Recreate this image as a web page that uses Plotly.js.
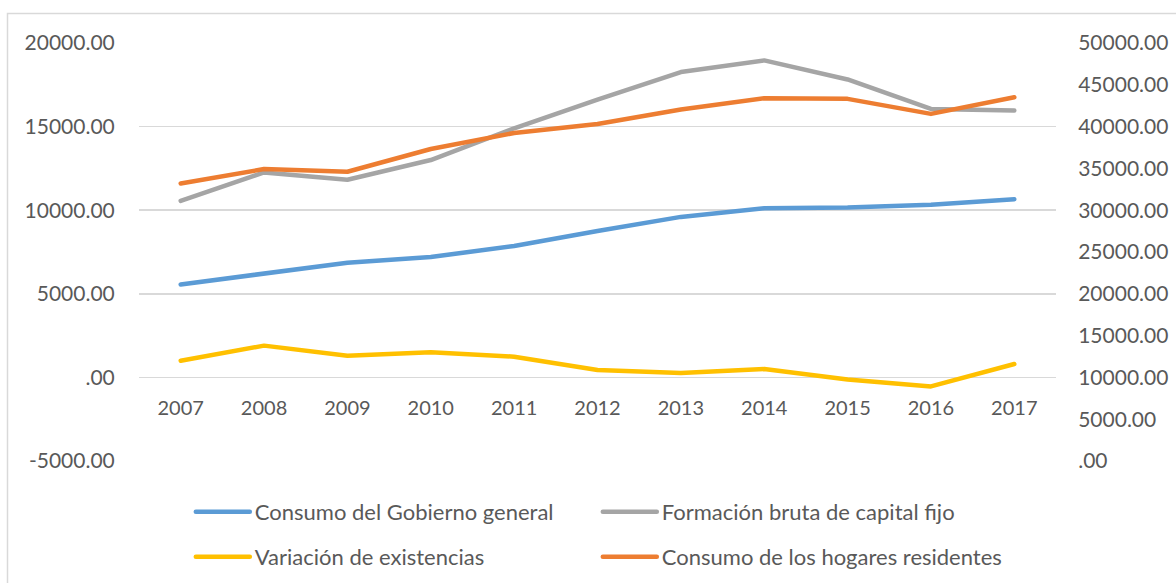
<!DOCTYPE html>
<html>
<head>
<meta charset="utf-8">
<script src="https://cdn.plot.ly/plotly-3.0.1.min.js"></script>
<style>
  html, body { margin: 0; padding: 0; background: #fff; overflow: hidden; }
  #chart { width: 1176px; height: 583px; }
  #chart path.js-line { stroke-linecap: round; stroke-linejoin: round; }
</style>
</head>
<body>
<div id="chart"></div>
<script>
// ---- data ----
var years = ['2007','2008','2009','2010','2011','2012','2013','2014','2015','2016','2017'];
var consumoGobierno = [5560, 6200, 6860, 7200, 7860, 8760, 9600, 10120, 10160, 10320, 10660];
var formacionBruta  = [10560, 12260, 11820, 13000, 14900, 16620, 18260, 18960, 17820, 16060, 15960];
var variacionExist  = [1000, 1900, 1300, 1500, 1240, 440, 260, 500, -120, -540, 800];
var consumoHogares  = [33200, 34920, 34600, 37320, 39240, 40320, 42040, 43400, 43320, 41520, 43520];

var seriesNames = ['Consumo del Gobierno general', 'Formación bruta de capital fijo',
                   'Variación de existencias', 'Consumo de los hogares residentes'];

var leftTickVals  = [-5000, 0, 5000, 10000, 15000, 20000];
var leftTickText  = ['-5000.00', '.00', '5000.00', '10000.00', '15000.00', '20000.00'];
var rightTickVals = [0, 5000, 10000, 15000, 20000, 25000, 30000, 35000, 40000, 45000, 50000];
var rightTickText = ['.00', '5000.00', '10000.00', '15000.00', '20000.00', '25000.00',
                     '30000.00', '35000.00', '40000.00', '45000.00', '50000.00'];

var FONT = 'Lato, "Open Sans", sans-serif';
var TXT = '#595959';
var LW = 4.5;

var traces = [
  { x: years, y: consumoGobierno, name: seriesNames[0], type: 'scatter', mode: 'lines',
    line: { color: '#5B9BD5', width: LW }, yaxis: 'y', legend: 'legend' },
  { x: years, y: formacionBruta, name: seriesNames[1], type: 'scatter', mode: 'lines',
    line: { color: '#A5A5A5', width: LW }, yaxis: 'y', legend: 'legend' },
  { x: years, y: variacionExist, name: seriesNames[2], type: 'scatter', mode: 'lines',
    line: { color: '#FFC000', width: LW }, yaxis: 'y', legend: 'legend2' },
  { x: years, y: consumoHogares, name: seriesNames[3], type: 'scatter', mode: 'lines',
    line: { color: '#ED7D31', width: LW }, yaxis: 'y2', legend: 'legend2' }
];

var legendCommon = {
  orientation: 'h', xanchor: 'left', yanchor: 'middle',
  font: { family: FONT, size: 22, color: TXT },
  bgcolor: 'rgba(0,0,0,0)', borderwidth: 0,
  entrywidth: 338, entrywidthmode: 'pixels', itemwidth: 54,
  traceorder: 'normal'
};

var layout = {
  width: 1176, height: 583,
  margin: { l: 139, r: 120, t: 43, b: 122, pad: 0, autoexpand: false },
  paper_bgcolor: '#ffffff', plot_bgcolor: '#ffffff',
  font: { family: FONT, size: 20, color: TXT },
  showlegend: true,
  xaxis: {
    type: 'category', range: [-0.5, 10.5],
    anchor: 'free', position: 0.201,
    showgrid: false, showline: false, zeroline: false,
    ticks: 'outside', ticklen: 13, tickcolor: 'rgba(0,0,0,0)',
    tickfont: { family: FONT, size: 20, color: TXT }
  },
  yaxis: {
    range: [-5000, 20000], tickmode: 'array', tickvals: leftTickVals, ticktext: leftTickText,
    showgrid: true, gridcolor: '#d9d9d9', gridwidth: 1.5,
    zeroline: false, showline: false,
    ticks: 'outside', ticklen: 19, tickcolor: 'rgba(0,0,0,0)',
    tickfont: { family: FONT, size: 21, color: TXT }
  },
  yaxis2: {
    range: [0, 50000], overlaying: 'y', side: 'right',
    tickmode: 'array', tickvals: rightTickVals, ticktext: rightTickText,
    showgrid: false, zeroline: false, showline: false,
    ticks: 'outside', ticklen: 17, tickcolor: 'rgba(0,0,0,0)',
    tickfont: { family: FONT, size: 21, color: TXT }
  },
  legend: Object.assign({}, legendCommon, { x: 0.0565, y: -0.122 }),
  legend2: Object.assign({}, legendCommon, { x: 0.0565, y: -0.2297 }),
  shapes: [
    { type: 'rect', xref: 'paper', yref: 'paper',
      x0: -0.1434, x1: 1.3, y0: -0.6, y1: 1.0706,
      line: { color: '#d9d9d9', width: 1.5 }, fillcolor: 'rgba(0,0,0,0)', layer: 'below' }
  ]
};

Plotly.newPlot('chart', traces, layout, { staticPlot: true, displayModeBar: false });
</script>
</body>
</html>
